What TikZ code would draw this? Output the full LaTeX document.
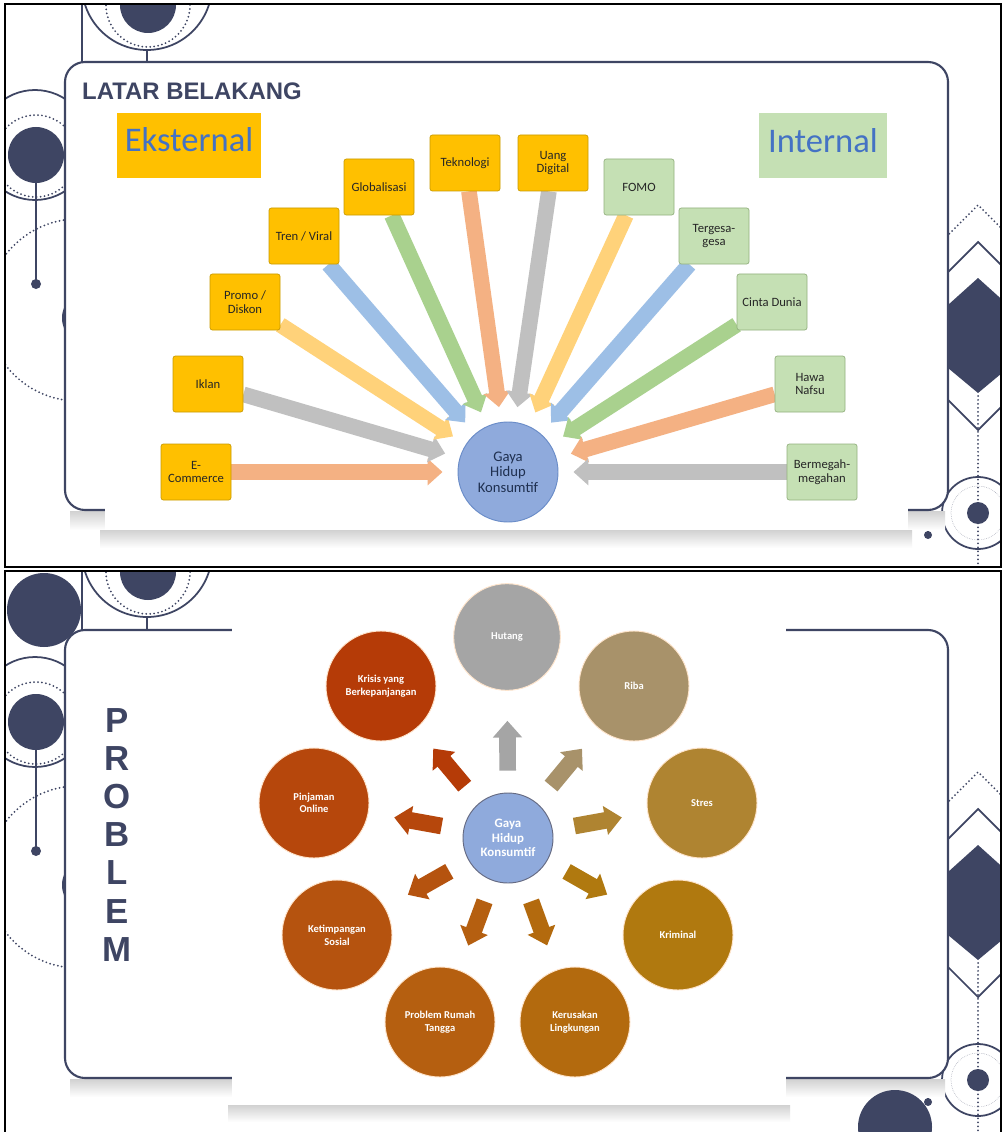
\documentclass[tikz,border=0pt]{standalone}
\usepackage{fontspec}
\setmainfont{Carlito}
\newfontfamily\headfont{Liberation Sans}
\usetikzlibrary{arrows.meta}

\definecolor{navy}{HTML}{3E4563}
\definecolor{extfill}{HTML}{FFC000}
\definecolor{extdraw}{HTML}{C99A00}
\definecolor{intfill}{HTML}{C5E0B4}
\definecolor{intdraw}{HTML}{93B07E}
\definecolor{labelblue}{HTML}{4472C4}
\definecolor{gayafill}{HTML}{8FAADC}
\definecolor{gayadraw}{HTML}{6A8CC8}
\definecolor{gayatext}{HTML}{1F3050}
\definecolor{fanred}{HTML}{F4B183}
\definecolor{fangray}{HTML}{C0C0C0}
\definecolor{fanyel}{HTML}{FFD27A}
\definecolor{fanblue}{HTML}{9DBFE6}
\definecolor{fangreen}{HTML}{A9D18E}
\definecolor{cHut}{HTML}{A5A5A5}
\definecolor{cRiba}{HTML}{A8926A}
\definecolor{cStres}{HTML}{AF8431}
\definecolor{cKrim}{HTML}{B0790F}
\definecolor{cRusak}{HTML}{B36A0E}
\definecolor{cRumah}{HTML}{B55F10}
\definecolor{cTimpang}{HTML}{B5530F}
\definecolor{cPinjam}{HTML}{B6470C}
\definecolor{cKrisis}{HTML}{B53B07}

\pgfdeclarelayer{back}
\pgfdeclarelayer{mid}
\pgfsetlayers{back,mid,main}

\tikzset{
  decoline/.style={draw=navy, line width=1.5pt},
  decodot/.style={draw=navy, line width=1.7pt, line cap=round, dash pattern=on 0pt off 3.4pt},
  panel/.style={draw=navy, line width=1.8pt, fill=white, rounded corners=0.6cm},
  shade/.style={top color=black!18, bottom color=white, draw=none},
  headbox/.style={minimum width=4.3cm, minimum height=1.95cm, inner sep=0pt,
    text height=22pt, text depth=11pt, text=labelblue, font=\fontsize{29.5}{32}\selectfont},
  extbox/.style={rectangle, rounded corners=2pt, draw=extdraw, fill=extfill, line width=0.6pt,
    minimum width=2.1cm, minimum height=1.68cm, inner sep=1pt, align=center,
    text=black!85, font=\fontsize{10.8}{11.6}\selectfont},
  intbox/.style={extbox, draw=intdraw, fill=intfill},
  fanarrow/.style={line width=0.47cm, -{Triangle[width=0.78cm,length=0.45cm]}, shorten >=0.45cm},
  rayarrow/.style={line width=0.5cm, -{Triangle[width=0.85cm,length=0.5cm]},
    shorten <=0.66cm, shorten >=0.78cm},
  outc/.style={circle, minimum size=3.3cm, inner sep=1pt, draw=white!80!orange, line width=0.8pt,
    text=white, align=center, font=\bfseries\fontsize{9}{10.8}\selectfont},
}

% template ornaments of one slide
\newcommand{\slidedecor}{%
  \draw[decoline] (147,-15) circle[radius=65];
  \draw[decodot] (148,5) circle[radius=42];
  \fill[navy] (148,5) circle[radius=28];
  \draw[decoline] (82,-10) -- (82,70);
  \draw[decoline] (147,50) -- (147,62);
  \draw[decoline] (35,145) circle[radius=55];
  \draw[decodot] (36,156) circle[radius=41];
  \fill[navy] (36,155) circle[radius=28];
  \draw[decoline] (36,183) -- (36,284);
  \fill[navy] (36,284) circle[radius=5];
  \draw[decodot] (78,310) circle[radius=91];
  \fill[navy] (90,318) circle[radius=28];
  \draw[decodot] (938,245) -- (978,205) -- (1018,245);
  \draw[decoline] (948,272) -- (978,242) -- (1008,272);
  \draw[decoline] (948,400) -- (978,430) -- (1008,400);
  \fill[navy] (978,278) -- (948,305) -- (948,368) -- (978,393) -- (1008,368) -- (1008,305) -- cycle;
  \draw[decodot] (978,396) -- (978,570);
  \draw[decoline] (978,513) circle[radius=36];
  \draw[navy!45, line width=0.5pt, densely dotted] (978,513) circle[radius=27];
  \fill[navy] (978,513) circle[radius=11];
  \draw[decoline] (928,510) -- (928,535);
  \fill[navy] (928,535) circle[radius=4];
}

\begin{document}
\begin{tikzpicture}[x=0.03cm, y=-0.03cm]
\useasboundingbox (0,0) rectangle (1002,1132);

\begin{pgfonlayer}{back}
  \fill[white] (0,0) rectangle (1002,1132);

  % slide 1
  \begin{scope}
    \clip (6,5) rectangle (1000,566);
    \slidedecor
  \end{scope}
  \fill[shade] (70,511) rectangle (945,530);
  \draw[panel] (65,62) rectangle (948,510);
  \fill[shade] (100,530) rectangle (912,548);
  \fill[white] (105,75) rectangle (908,530);
  \draw[black, line width=1.7pt] (5,4) rectangle (1001,567);

  % slide 2
  \begin{scope}
    \clip (6,572) rectangle (1000,1132);
    \begin{scope}[shift={(0,567)}]
      \slidedecor
    \end{scope}
    \fill[navy] (44,610) circle[radius=37];
    \fill[shade] (70,1079) rectangle (945,1097);
    \draw[panel] (65,630) rectangle (948,1078);
    \fill[shade] (228,1105) rectangle (790,1122);
    \fill[white] (232,575) rectangle (786,1105);
    \fill[navy] (895,1127) circle[radius=37];
  \end{scope}
  \draw[black, line width=2pt] (5,1140) -- (5,571) -- (1001,571) -- (1001,1140);
\end{pgfonlayer}

% slide 1: latar belakang
\node[font=\headfont\bfseries\fontsize{20.4}{24}\selectfont, text=navy, anchor=base west, inner sep=0pt]
  (judul1) at (82,100) {LATAR BELAKANG};
\node[headbox, fill=extfill] (eks) at (189,145.5) {Eksternal};
\node[headbox, fill=intfill, minimum width=3.84cm] (int) at (823,146) {Internal};

\begin{scope}[every node/.style={extbox}]
  \node (ecom)  at (196,472) {E-\\Commerce};
  \node (iklan) at (208,384) {Iklan};
  \node (promo) at (245,302) {Promo /\\Diskon};
  \node (tren)  at (304,236) {Tren / Viral};
  \node (glob)  at (379,187) {Globalisasi};
  \node (tekno) at (465,163) {Teknologi};
  \node (uang)  at (553,163) {Uang\\Digital};
\end{scope}

\begin{scope}[every node/.style={intbox}]
  \node (fomo)  at (639,187) {FOMO};
  \node (terg)  at (714,236) {Tergesa-\\gesa};
  \node (cinta) at (772,302) {Cinta Dunia};
  \node (hawa)  at (810,384) {Hawa\\Nafsu};
  \node (megah) at (822,472) {Bermegah-\\megahan};
\end{scope}

\node[circle, minimum size=3cm, inner sep=1pt, fill=gayafill, draw=gayadraw, line width=0.8pt,
  align=center, text=gayatext, font=\fontsize{12.5}{13.2}\selectfont] (gaya) at (508,472)
  {Gaya\\Hidup\\Konsumtif};

\begin{pgfonlayer}{mid}
  \foreach \src/\col in {ecom/fanred, iklan/fangray, promo/fanyel, tren/fanblue,
      glob/fangreen, tekno/fanred, uang/fangray, fomo/fanyel, terg/fanblue,
      cinta/fangreen, hawa/fanred, megah/fangray}
    \draw[fanarrow, \col] (\src) -- (gaya);
\end{pgfonlayer}

% slide 2: problem
\node[font=\headfont\bfseries\fontsize{29.7}{32.6}\selectfont, text=navy, align=center,
  anchor=north, inner sep=0pt] (judul2) at (117,708) {P\\R\\O\\B\\L\\E\\M};

\node[outc, fill=cHut, minimum size=3.2cm] (hut) at (507,637) {Hutang};
\node[outc, fill=cRiba]    (riba)    at (634,686)  {Riba};
\node[outc, fill=cStres]   (stres)   at (702,803)  {Stres};
\node[outc, fill=cKrim]    (krim)    at (678,935)  {Kriminal};
\node[outc, fill=cRusak]   (rusak)   at (575,1022) {Kerusakan\\Lingkungan};
\node[outc, fill=cRumah]   (rumah)   at (440,1022) {Problem Rumah\\Tangga};
\node[outc, fill=cTimpang] (timpang) at (337,935)  {Ketimpangan\\Sosial};
\node[outc, fill=cPinjam]  (pinjam)  at (314,803)  {Pinjaman\\Online};
\node[outc, fill=cKrisis]  (krisis)  at (381,686)  {Krisis yang\\Berkepanjangan};

\node[circle, minimum size=2.7cm, inner sep=1pt, fill=gayafill, draw=navy!80, line width=0.8pt,
  align=center, text=white, font=\bfseries\fontsize{11}{12.4}\selectfont] (pusat) at (508,838)
  {Gaya\\Hidup\\Konsumtif};

\draw[rayarrow, cHut, shorten >=0.9cm] (pusat) -- (hut);
\foreach \dst/\col in {riba/cRiba, stres/cStres, krim/cKrim, rusak/cRusak,
    rumah/cRumah, timpang/cTimpang, pinjam/cPinjam, krisis/cKrisis}
  \draw[rayarrow, \col] (pusat) -- (\dst);

\end{tikzpicture}
\end{document}
